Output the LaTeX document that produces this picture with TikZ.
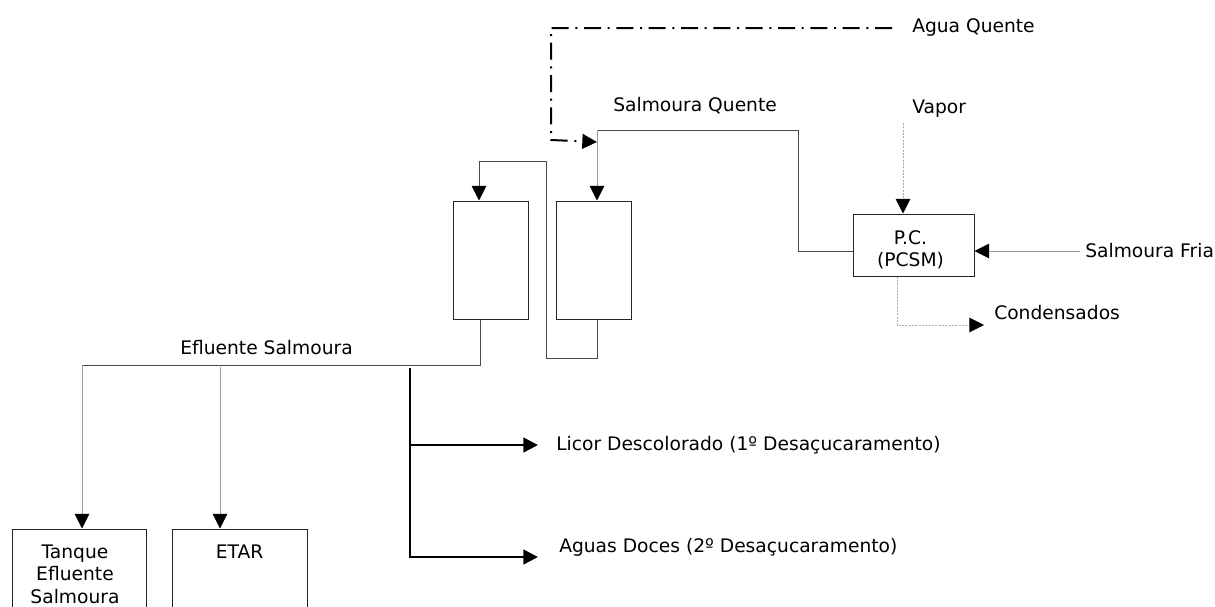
\documentclass[tikz,border=0pt]{standalone}
\usepackage{fontspec}
\setmainfont{DejaVu Sans}
\usetikzlibrary{arrows.meta,positioning,calc}
\definecolor{pipe}{HTML}{4A4A4A}
\definecolor{pipelt}{HTML}{9C9C9C}
\definecolor{steam}{HTML}{ABABAB}
\tikzset{
  unit/.style  ={draw=black!85, rectangle, inner sep=0pt, line width=0.75pt},
  lbl/.style   ={inner sep=0pt, anchor=west, text height=10.2pt, text depth=0pt,
                 font=\fontsize{14}{16.9}\selectfont},
  boxtxt/.style={inner sep=0pt, align=center, font=\fontsize{14}{16.9}\selectfont},
  ln/.style    ={draw=pipe, line width=0.75pt},
  ar/.style    ={-{Triangle[length=11pt,width=11pt,color=black]}, line width=0.75pt},
  arpipe/.style={ar, draw=pipe},
  arlt/.style  ={ar, draw=pipelt},
  ardot/.style ={ar, draw=steam, dash pattern=on 1.5pt off 1pt},
  arthk/.style ={ar, draw=black, line width=1.6pt},
  ardd/.style  ={ar, draw=black, line width=1.5pt,
                 dash pattern=on 12.75pt off 5pt on 1.5pt off 5pt},
}
\begin{document}
\begin{tikzpicture}[x=0.75pt,y=-0.75pt]
\useasboundingbox (0,0) rectangle (1215,607);
\clip (0,0) rectangle (1215,607);
% columns and heater
\node[unit, minimum width=56.25pt, minimum height=88.5pt] (col1) at (490.5,260) {};
\node[unit, minimum width=56.25pt, minimum height=88.5pt] (col2) at (593.5,260) {};
\node[unit, minimum width=90.75pt, minimum height=46.5pt] (pc) at (913.5,245) {};
\node[boxtxt] (pctxt) at ($(pc.center)+(-3,5)$) {P.C.\\(PCSM)};
% destinations
\node[unit, minimum width=100.5pt, minimum height=90.75pt] (tanque) at (79,589.5) {};
\node[boxtxt, anchor=north] (tqtxt) at ($(tanque.north)+(-4,16)$) {Tanque\\Efluente\\Salmoura};
\node[unit, minimum width=101.25pt, minimum height=90.75pt] (etar) at (239.5,589.5) {};
\node[boxtxt, anchor=north] (ettxt) at ($(etar.north)+(0,16)$) {ETAR};
% stream labels
\node[lbl] (aqlbl) at (912,26) {Agua Quente};
\node[lbl] (sqlbl) at (613,105) {Salmoura Quente};
\node[lbl] (vplbl) at (912,107) {Vapor};
\node[lbl] (sflbl) at (1085,251) {Salmoura Fria};
\node[lbl] (cdlbl) at (994,313) {Condensados};
\node[lbl] (eflbl) at (180,348) {Efluente Salmoura};
\node[lbl] (lclbl) at (556,444) {Licor Descolorado (1º Desaçucaramento)};
\node[lbl] (adlbl) at (559,546) {Aguas Doces (2º Desaçucaramento)};
% free ends
\coordinate (aqend) at (892,28);
\coordinate (aqturn) at (551,140);
\coordinate (mix) at (597,142);
\coordinate (sqtop) at (597,130);
\coordinate (hdr) at (82,365);
\coordinate (hdrb) at (220,367);
\coordinate (spine) at (410,368);
\coordinate (spinelc) at (410,445);
\coordinate (lcend) at (538,445);
\coordinate (adend) at (538,557);
\coordinate (vpin) at (903,123);
\coordinate (cdout) at (984,325);
% hot water and hot brine
\draw[ardd] (aqend) -| (aqturn) -- (mix);
\draw[ln] ($(pc.west)+(0,6)$) -- ++(-54,0) |- (sqtop);
\draw[arlt] (sqtop) -- ($(col2.north)+(3.5,0)$);
\draw[arpipe] ($(col2.south)+(3.5,0)$) -- ++(0,39) -- ++(-51,0) -- ++(0,-197)
  -| ($(col1.north)+(-11.5,0)$);
% effluent
\draw[ln] ($(col1.south)+(-10.5,0)$) |- (hdr);
\draw[arlt] (hdr) -- (hdr |- tanque.north);
\draw[arlt] (hdrb) -- (hdrb |- etar.north);
\draw[arthk] (spine) |- (adend);
\draw[arthk] (spinelc) -- (lcend);
% heater streams
\draw[ardot] (vpin) -- (vpin |- pc.north);
\draw[arlt] ($(sflbl.west)+(-5,0)$) -- ($(pc.east)+(0,6)$);
\draw[ardot] ($(pc.south)+(-16.5,0)$) |- (cdout);
\end{tikzpicture}
\end{document}
